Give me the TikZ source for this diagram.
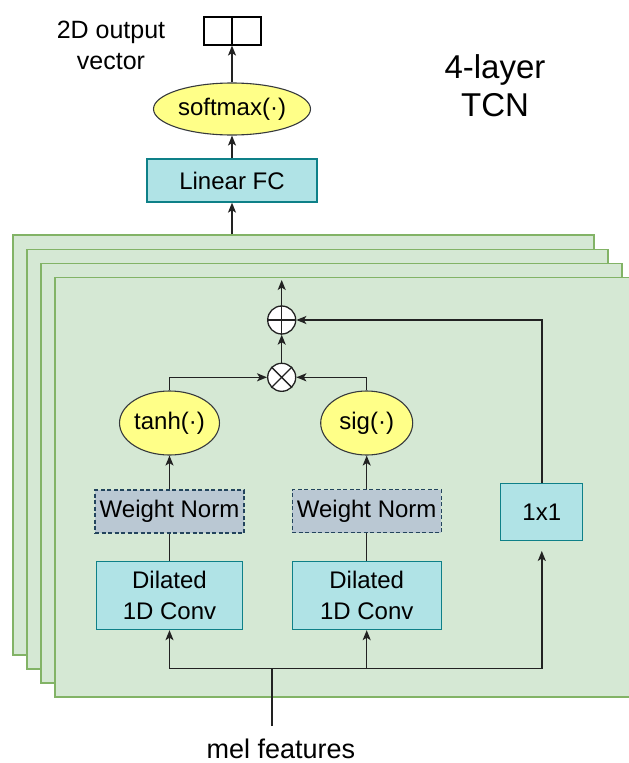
\documentclass[tikz,border=0pt]{standalone}
\usepackage{fontspec}
\setmainfont{Liberation Sans}
\usetikzlibrary{shapes.geometric,arrows.meta}
\definecolor{grfill}{HTML}{D5E8D4}
\definecolor{grline}{HTML}{82B366}
\definecolor{cyfill}{HTML}{B0E3E6}
\definecolor{cyline}{HTML}{0E8088}
\definecolor{yefill}{HTML}{FFFF88}
\definecolor{yeline}{HTML}{36393D}
\definecolor{wnfill}{HTML}{BAC8D3}
\definecolor{wnline}{HTML}{23445D}
\definecolor{lncol}{HTML}{222222}
\begin{document}
\begin{tikzpicture}[x=1pt,y=-1pt,
  layer/.style={draw=grline, fill=grfill, line width=1.5pt, inner sep=0pt},
  txt/.style={font=\fontsize{24}{31}\selectfont, align=center, text=black},
  cybox/.style={txt, draw=cyline, fill=cyfill, line width=1.3pt, inner sep=0pt},
  yell/.style={txt, ellipse, draw=yeline, fill=yefill, line width=1.1pt, inner sep=0pt},
  wnbox/.style={txt, draw=wnline, fill=wnfill, line width=1.1pt, dash pattern=on 4pt off 2.5pt, inner sep=0pt},
  opc/.style={circle, draw=lncol, fill=white, line width=1.3pt, minimum size=28pt, inner sep=0pt},
  vbox/.style={draw=black, fill=white, line width=1.1pt, inner sep=0pt, minimum height=28pt},
  conn/.style={draw=lncol, line width=1.5pt},
  arr/.style={conn, -{Stealth[length=10pt, width=8pt, inset=2.5pt]}}
]
\useasboundingbox (0,0) rectangle (629,763);

% stacked layers
\node[layer, minimum width=581pt, minimum height=420pt] (L1) at (303.3,445) {};
\node[layer, minimum width=581pt, minimum height=419.5pt] (L2) at (317.5,459.3) {};
\node[layer, minimum width=581pt, minimum height=419.5pt] (L3) at (331.5,473.3) {};
\node[layer, minimum width=585pt, minimum height=419.5pt] (L4) at (347.5,487.3) {};

% top part
\node[vbox, minimum width=28pt] (ov1) at (218,31) {};
\node[vbox, minimum width=29pt] (ov2) at (246.5,31) {};
\node[txt, font=\fontsize{25}{31}\selectfont] (outlbl) at (111,45) {2D output\\vector};
\node[txt, font=\fontsize{33}{38}\selectfont] (tcn) at (495,86) {4-layer\\TCN};
\node[yell, minimum width=157pt, minimum height=52pt] (sm) at (232,109) {softmax(·)};
\node[cybox, minimum width=170pt, minimum height=43pt] (fc) at (232,180.5) {Linear FC};

% inner block
\node[opc] (plus) at (281.7,320) {};
\draw[lncol, line width=1.3pt] (plus.north) -- (plus.south) (plus.west) -- (plus.east);
\node[opc] (times) at (281.7,377.3) {};
\draw[lncol, line width=1.3pt] (times.north west) -- (times.south east) (times.north east) -- (times.south west);
\coordinate (topc) at (281.7,280);

\node[yell, minimum width=92pt, minimum height=64pt] (tanh) at (169.5,423) {tanh(·)};
\node[yell, minimum width=92pt, minimum height=64pt] (sig) at (366.7,423) {sig(·)};
\node[wnbox, minimum width=149pt, minimum height=43pt] (wn1) at (169.5,511.5) {Weight Norm};
\node[wnbox, minimum width=149pt, minimum height=43pt] (wn2) at (366.7,511) {Weight Norm};
\node[cybox, minimum width=146pt, minimum height=68pt] (dc1) at (169.5,595.5) {Dilated\\1D Conv};
\node[cybox, minimum width=149pt, minimum height=68pt] (dc2) at (366.7,595.5) {Dilated\\1D Conv};
\node[cybox, minimum width=82pt, minimum height=57pt] (one) at (541.8,511.8) {1x1};

\coordinate (bus) at (272,668.7);
\coordinate (melend) at (272,726);
\node[font=\fontsize{27}{30}\selectfont, inner sep=0pt, anchor=base] (mel) at (281,758) {mel features};

% connectors
\draw[arr] (sm.north) -- (sm.north |- ov1.south);
\draw[arr] (fc.north) -- (sm.south);
\draw[arr] (fc.south |- L1.north) -- (fc.south);
\draw[arr] (plus.north) -- (topc);
\draw[arr] (times.north) -- (plus.south);
\draw[arr] (one.north) |- (plus.east);
\draw[arr] (tanh.north) |- (times.west);
\draw[arr] (sig.north) |- (times.east);
\draw[arr] (wn1.north) -- (tanh.south);
\draw[arr] (wn2.north) -- (sig.south);
\draw[conn] (dc1.north) -- (wn1.south);
\draw[conn] (dc2.north) -- (wn2.south);
\draw[conn] (melend) -- (bus);
\draw[arr] (bus) -| (dc1.south);
\draw[arr] (bus) -| (dc2.south);
\draw[arr, shorten >=10pt] (bus) -| (one.south);
\end{tikzpicture}
\end{document}
